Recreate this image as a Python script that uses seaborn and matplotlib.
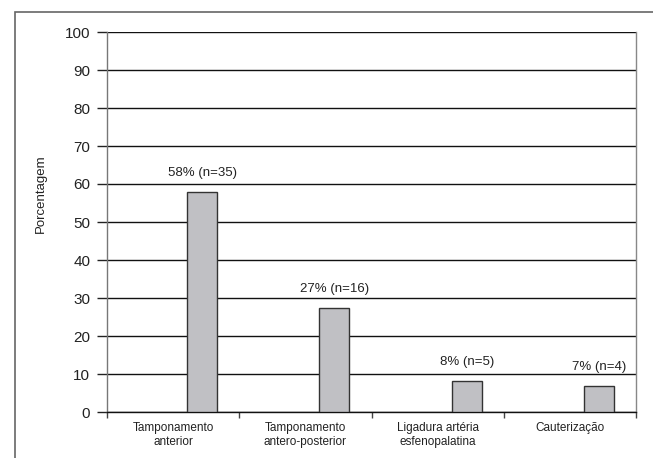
import matplotlib
matplotlib.use("Agg")
import matplotlib.pyplot as plt
import seaborn as sns
import pandas as pd
from matplotlib.patches import Rectangle

categories = ["Tamponamento\nanterior", "Tamponamento\nantero-posterior",
              "Ligadura artéria\nesfenopalatina", "Cauterização"]
values = [58.0, 27.4, 8.2, 6.9]
labels = ["58% (n=35)", "27% (n=16)", "8% (n=5)", "7% (n=4)"]
yticks = [0, 10, 20, 30, 40, 50, 60, 70, 80, 90, 100]

df = pd.DataFrame({"cat": categories, "val": values})

sns.set_theme(style="white")
plt.rcParams["font.family"] = ["Liberation Sans", "DejaVu Sans"]

fig = plt.figure(figsize=(6.53, 4.58), dpi=100)
ax = fig.add_axes([107 / 653, 1 - 412 / 458, 529 / 653, 380 / 458])

sns.barplot(data=df, x="cat", y="val", ax=ax, width=0.227,
            color="#c0c0c4", edgecolor="#333333", linewidth=1.0,
            saturation=1, zorder=3)

for p in ax.patches:
    p.set_x(p.get_x() + 0.22)

ax.bar_label(ax.containers[0], labels=labels, padding=9, fontsize=9.5,
             color="#222222")

ax.set_ylim(0, 100)
ax.set_xlim(-0.5, len(categories) - 0.5)
ax.set_yticks(yticks)
ax.yaxis.grid(True, color="#111111", linewidth=1.0, zorder=0)
ax.set_axisbelow(True)
ax.tick_params(axis="y", length=7, width=1, color="#222222", pad=5,
               labelsize=11, labelcolor="#222222", left=True)

ax.set_xticks([i + 0.5 for i in range(-1, len(categories))])
ax.set_xticklabels([""] * (len(categories) + 1))
ax.set_xticks(list(range(len(categories))), minor=True)
ax.set_xticklabels(categories, minor=True, fontsize=8.5, color="#222222")
ax.tick_params(axis="x", which="major", length=4, width=1, color="#444444",
               bottom=True)
ax.tick_params(axis="x", which="minor", length=0, pad=7)

ax.set_xlabel("")
ax.set_ylabel("Porcentagem", fontsize=9.5, color="#222222")
ax.yaxis.set_label_coords(-0.114, 0.575)

ax.spines["top"].set_visible(False)
ax.spines["left"].set_color("#777777")
ax.spines["right"].set_color("#888888")
ax.spines["bottom"].set_color("#111111")
for s in ax.spines.values():
    s.set_linewidth(1.0)

frame = Rectangle((15 / 653, -0.1), 1.2, (1 - 12 / 458) + 0.1,
                  transform=fig.transFigure, fill=False,
                  edgecolor="#666666", linewidth=1.2, clip_on=False)
fig.patches.append(frame)

fig.savefig("out.png", dpi=100)
